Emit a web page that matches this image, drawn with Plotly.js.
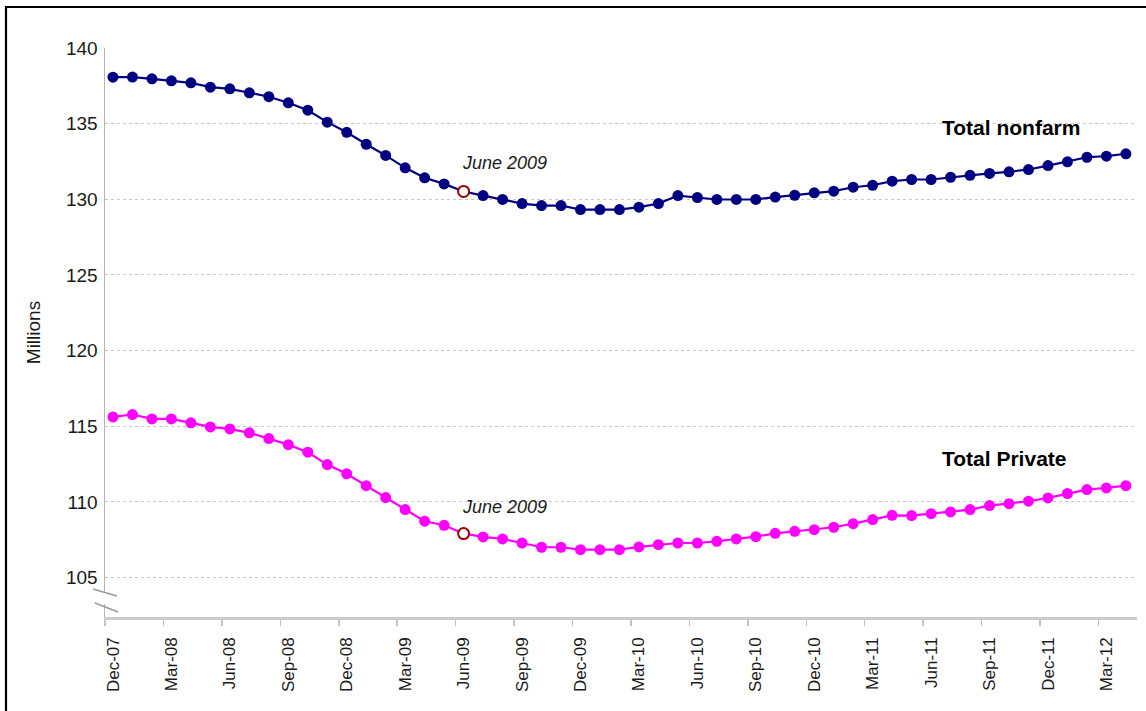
<!DOCTYPE html>
<html>
<head>
<meta charset="utf-8">
<script src="https://cdn.plot.ly/plotly-3.0.1.min.js"></script>
<style>
  html, body { margin: 0; padding: 0; background: #ffffff; }
  #chart { width: 1146px; height: 711px; }
</style>
</head>
<body>
<div id="chart"></div>
<script>
// Months Dec-07 .. Apr-12
const months = ["Dec-07","Jan-08","Feb-08","Mar-08","Apr-08","May-08","Jun-08","Jul-08","Aug-08","Sep-08","Oct-08","Nov-08",
  "Dec-08","Jan-09","Feb-09","Mar-09","Apr-09","May-09","Jun-09","Jul-09","Aug-09","Sep-09","Oct-09","Nov-09",
  "Dec-09","Jan-10","Feb-10","Mar-10","Apr-10","May-10","Jun-10","Jul-10","Aug-10","Sep-10","Oct-10","Nov-10",
  "Dec-10","Jan-11","Feb-11","Mar-11","Apr-11","May-11","Jun-11","Jul-11","Aug-11","Sep-11","Oct-11","Nov-11",
  "Dec-11","Jan-12","Feb-12","Mar-12","Apr-12"];

// Total nonfarm employment (millions)
const totalNonfarm = [138.07,138.08,137.96,137.83,137.70,137.41,137.30,137.04,136.78,136.38,135.89,135.10,
  134.43,133.64,132.90,132.08,131.42,131.02,130.52,130.25,129.99,129.72,129.59,129.59,
  129.32,129.32,129.32,129.48,129.72,130.25,130.12,129.99,129.99,129.99,130.15,130.27,
  130.43,130.54,130.80,130.93,131.20,131.31,131.31,131.46,131.59,131.71,131.82,131.97,
  132.23,132.48,132.78,132.85,133.01];

// Total private employment (millions)
const totalPrivate = [115.62,115.78,115.49,115.49,115.23,114.96,114.83,114.57,114.19,113.79,113.29,112.47,
  111.86,111.08,110.29,109.50,108.73,108.46,107.91,107.69,107.56,107.29,107.01,107.01,
  106.85,106.85,106.85,107.03,107.18,107.29,107.29,107.40,107.56,107.71,107.93,108.06,
  108.17,108.33,108.57,108.84,109.12,109.10,109.23,109.34,109.50,109.76,109.89,110.05,
  110.27,110.56,110.82,110.93,111.08];

const tickLabels = ["Dec-07","Mar-08","Jun-08","Sep-08","Dec-08","Mar-09","Jun-09","Sep-09","Dec-09","Mar-10",
  "Jun-10","Sep-10","Dec-10","Mar-11","Jun-11","Sep-11","Dec-11","Mar-12"];
const yTicks = [105,110,115,120,125,130,135,140];

const troughLabel = "June 2009";
const troughMonth = "Jun-09";
const seriesNames = ["Total nonfarm","Total Private"];

// ---- build ----
const idx = months.map((m, i) => i);
const tIdx = months.indexOf(troughMonth);
const tickPos = tickLabels.map(l => months.indexOf(l) - 0.41);

const FONT = "'Liberation Sans', Arial, sans-serif";
const TXT = "#1a1a1a";

function mk(col) {
  return {
    color: idx.map(i => i === tIdx ? "#ffffff" : col),
    size: 11,
    line: { color: idx.map(i => i === tIdx ? "#990000" : col), width: idx.map(i => i === tIdx ? 2 : 0) }
  };
}

const traces = [
  { x: idx, y: totalNonfarm, name: seriesNames[0], type: "scatter", mode: "lines+markers",
    line: { color: "#000080", width: 2.2 }, marker: mk("#000080"), hoverinfo: "skip" },
  { x: idx, y: totalPrivate, name: seriesNames[1], type: "scatter", mode: "lines+markers",
    line: { color: "#ff00ff", width: 2.2 }, marker: mk("#ff00ff"), hoverinfo: "skip" }
];

// plot area in pixels: x 105..1137, y 48..617
const L = 105, R = 1137, T = 48, B = 617;
const px = X => (X - L) / (R - L);
const py = Y => (B - Y) / (B - T);

const shapes = [
  // outer frame (top & left visible)
  { type: "rect", xref: "paper", yref: "paper", x0: px(6), x1: px(1160), y0: py(730), y1: py(7),
    line: { color: "#000000", width: 2.2 }, fillcolor: "rgba(0,0,0,0)", layer: "above" },
  // axis break gap
  { type: "rect", xref: "paper", yref: "paper", x0: px(102), x1: px(108), y0: py(604), y1: py(592),
    line: { width: 0 }, fillcolor: "#ffffff", layer: "above" },
  { type: "line", xref: "paper", yref: "paper", x0: px(93), y0: py(589), x1: px(117), y1: py(596),
    line: { color: "#9a9a9a", width: 1.5 }, layer: "above" },
  { type: "line", xref: "paper", yref: "paper", x0: px(95), y0: py(603), x1: px(118), y1: py(612),
    line: { color: "#9a9a9a", width: 1.5 }, layer: "above" }
];

const annotations = [
  { x: 42.45, y: 134.75, xref: "x", yref: "y", text: seriesNames[0], showarrow: false,
    xanchor: "left", yanchor: "middle", font: { family: FONT, size: 21, color: "#000", weight: "bold" } },
  { x: 42.45, y: 112.87, xref: "x", yref: "y", text: seriesNames[1], showarrow: false,
    xanchor: "left", yanchor: "middle", font: { family: FONT, size: 21, color: "#000", weight: "bold" } },
  { x: tIdx, y: totalNonfarm[tIdx], xref: "x", yref: "y", text: troughLabel, showarrow: false,
    xanchor: "left", yanchor: "middle", yshift: 28, xshift: -4,
    font: { family: FONT, size: 18, color: TXT, style: "italic" } },
  { x: tIdx, y: totalPrivate[tIdx], xref: "x", yref: "y", text: troughLabel, showarrow: false,
    xanchor: "left", yanchor: "middle", yshift: 27, xshift: -4,
    font: { family: FONT, size: 18, color: TXT, style: "italic" } }
];

const layout = {
  width: 1146, height: 711,
  margin: { l: L, r: 1146 - R, t: T, b: 711 - B, pad: 0 },
  paper_bgcolor: "#ffffff", plot_bgcolor: "#ffffff",
  showlegend: false,
  font: { family: FONT, color: TXT },
  xaxis: {
    range: [-0.41, 52.57], tickmode: "array", tickvals: tickPos, ticktext: tickLabels,
    tickangle: -90, ticks: "outside", ticklen: 6, tickwidth: 1.5, tickcolor: "#c4c4c4",
    ticklabelshift: 8, ticklabelstandoff: 5,
    showgrid: false, zeroline: false, showline: true, linecolor: "#cccccc", linewidth: 2.5,
    tickfont: { family: FONT, size: 17, color: TXT }, fixedrange: true, automargin: false
  },
  yaxis: {
    range: [102.4, 140], tickmode: "array", tickvals: yTicks, ticks: "",
    showgrid: true, gridcolor: "#c8c8c8", griddash: "3px,3px", gridwidth: 1,
    zeroline: false, showline: true, linecolor: "#b4b4b4", linewidth: 1.5,
    tickfont: { family: FONT, size: 19, color: TXT }, ticklabelstandoff: 2,
    title: { text: "Millions", font: { family: FONT, size: 19, color: TXT }, standoff: 20 },
    fixedrange: true, automargin: false
  },
  shapes: shapes,
  annotations: annotations
};

Plotly.newPlot("chart", traces, layout, { staticPlot: true, displayModeBar: false });
</script>
</body>
</html>
